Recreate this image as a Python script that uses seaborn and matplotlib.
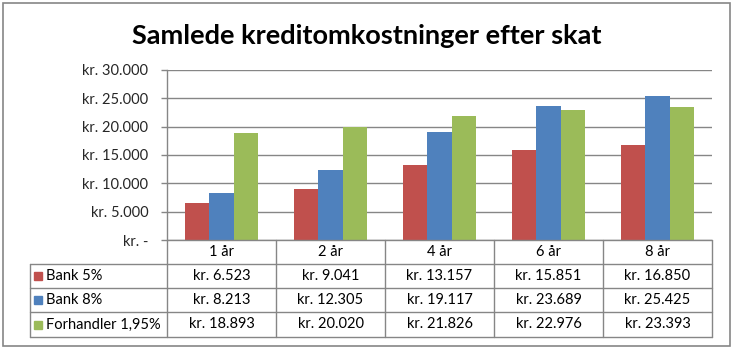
import matplotlib
matplotlib.use("Agg")
import matplotlib.pyplot as plt
from matplotlib.patches import Rectangle
import seaborn as sns
import pandas as pd

categories = ["1 år", "2 år", "4 år", "6 år", "8 år"]
series = ["Bank 5%", "Bank 8%", "Forhandler 1,95%"]
bank5 = [6523, 9041, 13157, 15851, 16850]
bank8 = [8213, 12305, 19117, 23689, 25425]
forhandler = [18893, 20020, 21826, 22976, 23393]
yticks = [0, 5000, 10000, 15000, 20000, 25000, 30000]
ytick_labels = ["kr. -", "kr. 5.000", "kr. 10.000", "kr. 15.000", "kr. 20.000", "kr. 25.000", "kr. 30.000"]
colors = ["#C0504D", "#4F81BD", "#9BBB59"]
title = "Samlede kreditomkostninger efter skat"

values = [bank5, bank8, forhandler]
rows = []
for s, vals in zip(series, values):
    for c, v in zip(categories, vals):
        rows.append({"cat": c, "series": s, "val": v})
df = pd.DataFrame(rows)

sns.set_theme(style="white")
plt.rcParams["font.family"] = ["Lato", "DejaVu Sans"]

W, H = 734, 352
fig = plt.figure(figsize=(W / 100, H / 100), dpi=100)

def fx(px):
    return px / W

def fy(py):
    return 1 - py / H

left, right, top, bottom = 167, 712, 70, 240
ax = fig.add_axes([fx(left), fy(bottom), fx(right - left), (bottom - top) / H])

sns.barplot(data=df, x="cat", y="val", hue="series", palette=colors,
            width=0.67, gap=0, ax=ax, legend=False, saturation=1,
            edgecolor="none", linewidth=0)

ax.set_ylim(0, 30000)
ax.set_xlim(-0.5, len(categories) - 0.5)
ax.set_yticks(yticks)
ax.set_yticklabels(ytick_labels, fontsize=10.5)
ax.set_xticks([])
ax.set_xlabel("")
ax.set_ylabel("")
gridc = "#868686"
for t in yticks:
    ax.axhline(t, color=gridc, lw=1, zorder=0)
ax.tick_params(axis="y", length=4.5, width=1, color=gridc, pad=9, left=True)
for sp in ["top", "right", "bottom"]:
    ax.spines[sp].set_visible(False)
ax.spines["left"].set_color(gridc)
ax.spines["left"].set_linewidth(1)

# Data table
row_y = [240, 264, 288, 312, 337]
tbl_left = 30
trans = fig.transFigure
lc = "#868686"
fig.add_artist(plt.Line2D([fx(left), fx(right)], [fy(row_y[0])] * 2, color=lc, lw=1, transform=trans))
for y in row_y[1:]:
    fig.add_artist(plt.Line2D([fx(tbl_left), fx(right)], [fy(y)] * 2, color=lc, lw=1, transform=trans))
catw = (right - left) / len(categories)
for i in range(len(categories) + 1):
    x = left + i * catw
    fig.add_artist(plt.Line2D([fx(x)] * 2, [fy(row_y[0]), fy(row_y[-1])], color=lc, lw=1, transform=trans))
fig.add_artist(plt.Line2D([fx(tbl_left)] * 2, [fy(row_y[1]), fy(row_y[-1])], color=lc, lw=1, transform=trans))

txtc = "#000000"
for i, c in enumerate(categories):
    xc = left + (i + 0.5) * catw
    fig.text(fx(xc), fy((row_y[0] + row_y[1]) / 2), c, ha="center", va="center", fontsize=10.5, color=txtc)
    for r, vals in enumerate(values):
        lab = "kr. " + f"{vals[i]:,}".replace(",", ".")
        fig.text(fx(xc), fy((row_y[r + 1] + row_y[r + 2]) / 2), lab, ha="center", va="center",
                 fontsize=10.5, color=txtc)
for r, s in enumerate(series):
    yc = (row_y[r + 1] + row_y[r + 2]) / 2
    fig.add_artist(Rectangle((fx(34), fy(yc + 4)), fx(8), 8 / H, color=colors[r], transform=trans))
    fig.text(fx(46), fy(yc), s, ha="left", va="center", fontsize=10.5, color=txtc)

fig.text(0.5, fy(36), title, ha="center", va="center", fontsize=19.5, fontweight="bold", color="black")

fig.add_artist(Rectangle((fx(3), fy(346)), fx(727), (346 - 3) / H, fill=False, edgecolor="#868686",
                         lw=1.2, transform=trans))

fig.savefig("out.png", dpi=100)
